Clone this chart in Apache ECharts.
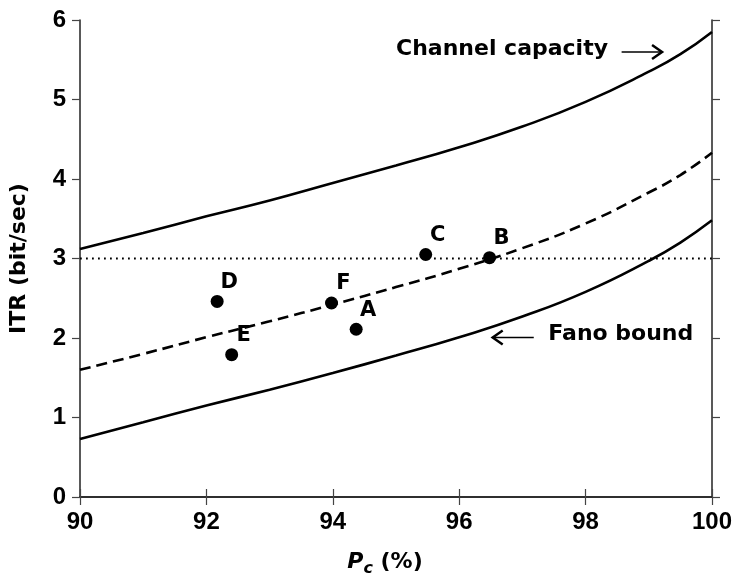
<!DOCTYPE html>
<html>
<head>
<meta charset="utf-8">
<script src="https://cdn.jsdelivr.net/npm/echarts@6/dist/echarts.min.js"></script>
<style>html,body{margin:0;padding:0;background:#fff}#c{width:735px;height:582px}</style>
</head>
<body>
<div id="c"></div>
<script>
const pc = [90, 91, 92, 93, 94, 95, 96, 97, 98, 99, 99.5, 100];
const channelCapacity = [3.12, 3.32, 3.53, 3.73, 3.95, 4.17, 4.40, 4.66, 4.97, 5.35, 5.57, 5.85];
const dashedCurve = [1.60, 1.80, 2.01, 2.21, 2.42, 2.64, 2.87, 3.13, 3.44, 3.83, 4.05, 4.33];
const fanoBound = [0.73, 0.94, 1.15, 1.35, 1.56, 1.78, 2.01, 2.27, 2.58, 2.97, 3.20, 3.48];
const pointLabels = ['A', 'B', 'C', 'D', 'E', 'F'];
const pointX = [94.37, 96.48, 95.47, 92.17, 92.40, 93.98];
const pointY = [2.11, 3.01, 3.05, 2.46, 1.79, 2.44];
const refLevel = 3;
const xTicks = [90, 92, 94, 96, 98, 100];
const yTicks = [0, 1, 2, 3, 4, 5, 6];

const zip = (xs, ys) => xs.map((x, i) => [x, ys[i]]);
const FONT = '"Liberation Sans", Arial, sans-serif';
const TFONT = '"DejaVu Sans", sans-serif';
const axisLine = { show: true, lineStyle: { color: '#222', width: 1.5 } };
const axisTick = { show: true, inside: false, length: 8, lineStyle: { color: '#444', width: 1.2 } };

const chart = echarts.init(document.getElementById('c'), null, { renderer: 'canvas' });
chart.setOption({
  animation: false,
  backgroundColor: '#fff',
  grid: { left: 77, right: 22, top: 20, bottom: 80 },
  xAxis: [{
    type: 'value', min: 90, max: 100, interval: 2, position: 'bottom',
    axisLine, axisTick, splitLine: { show: false },
    axisLabel: { margin: 13, color: '#000', fontFamily: FONT, fontWeight: 'bold', fontSize: 24,
      formatter: v => xTicks.includes(v) ? String(v) : '' },
    name: '{p|P}{c|c}{r| (%)}', nameLocation: 'middle', nameGap: 50,
    nameTextStyle: { padding: [0, 22, 0, 0], rich: {
      p: { fontFamily: TFONT, fontWeight: 'bold', fontStyle: 'italic', fontSize: 22, color: '#000' },
      c: { fontFamily: TFONT, fontWeight: 'bold', fontStyle: 'italic', fontSize: 16, color: '#000', padding: [14, 0, 0, 0] },
      r: { fontFamily: TFONT, fontWeight: 'bold', fontSize: 22, color: '#000' }
    } }
  }, {
    type: 'value', min: 90, max: 100, interval: 2, position: 'top',
    axisLine, axisTick, axisLabel: { show: false }, splitLine: { show: false }
  }],
  yAxis: [{
    type: 'value', min: 0, max: 6, interval: 1, position: 'left',
    axisLine, axisTick, splitLine: { show: false },
    axisLabel: { margin: 14, color: '#000', fontFamily: FONT, fontWeight: 'bold', fontSize: 24,
      formatter: v => yTicks.includes(v) ? String(v) : '' },
    name: 'ITR (bit/sec)', nameLocation: 'middle', nameGap: 50, nameRotate: 90,
    nameTextStyle: { fontFamily: TFONT, fontWeight: 'bold', fontSize: 22, color: '#000' }
  }, {
    type: 'value', min: 0, max: 6, interval: 1, position: 'right',
    axisLine, axisTick, axisLabel: { show: false }, splitLine: { show: false }
  }],
  series: [
    { name: 'Channel capacity', type: 'line', data: zip(pc, channelCapacity), smooth: true, showSymbol: false,
      lineStyle: { color: '#000', width: 2.6 } },
    { name: 'Dashed', type: 'line', data: zip(pc, dashedCurve), smooth: true, showSymbol: false,
      lineStyle: { color: '#000', width: 2.6, type: [11, 6] } },
    { name: 'Fano bound', type: 'line', data: zip(pc, fanoBound), smooth: true, showSymbol: false,
      lineStyle: { color: '#000', width: 2.6 } },
    { name: 'Reference', type: 'line', data: [[90, refLevel], [100, refLevel]], showSymbol: false,
      lineStyle: { color: '#000', width: 2, type: [1.8, 4.2] } },
    { name: 'Points', type: 'scatter', symbol: 'circle', symbolSize: 13,
      itemStyle: { color: '#000', opacity: 1 },
      data: pointX.map((x, i) => ({ value: [x, pointY[i]], name: pointLabels[i] })),
      label: { show: true, formatter: p => p.name, position: 'inside', offset: [12, -19],
        color: '#000', fontFamily: TFONT, fontWeight: 'bold', fontSize: 21 } }
  ]
});

// annotation positions in data coordinates
const annCap = { text: 'Channel capacity', x: 95.0, y: 5.61, arrowFrom: 98.57, arrowTo: 99.21 };
const annFano = { text: 'Fano bound', x: 97.41, y: 2.02, arrowFrom: 97.18, arrowTo: 96.53 };

function arrowGraphic(a) {
  const p0 = chart.convertToPixel({ xAxisIndex: 0, yAxisIndex: 0 }, [a.arrowFrom, a.y]);
  const p1 = chart.convertToPixel({ xAxisIndex: 0, yAxisIndex: 0 }, [a.arrowTo, a.y]);
  const t = chart.convertToPixel({ xAxisIndex: 0, yAxisIndex: 0 }, [a.x, a.y]);
  const dir = Math.sign(p1[0] - p0[0]);
  const head = 10;
  return [
    { type: 'text', left: t[0], top: t[1] - 13,
      style: { text: a.text, fontFamily: TFONT, fontWeight: 'bold', fontSize: 22, fill: '#000' } },
    { type: 'line', shape: { x1: p0[0], y1: p0[1] + 1, x2: p1[0], y2: p1[1] + 1 },
      style: { stroke: '#000', lineWidth: 1.5 } },
    { type: 'polyline', shape: { points: [[p1[0] - dir * head, p1[1] + 1 - 7], [p1[0], p1[1] + 1], [p1[0] - dir * head, p1[1] + 1 + 7]] },
      style: { stroke: '#000', lineWidth: 2.5, fill: null } }
  ];
}
chart.setOption({ graphic: [...arrowGraphic(annCap), ...arrowGraphic(annFano)] });
</script>
</body>
</html>
